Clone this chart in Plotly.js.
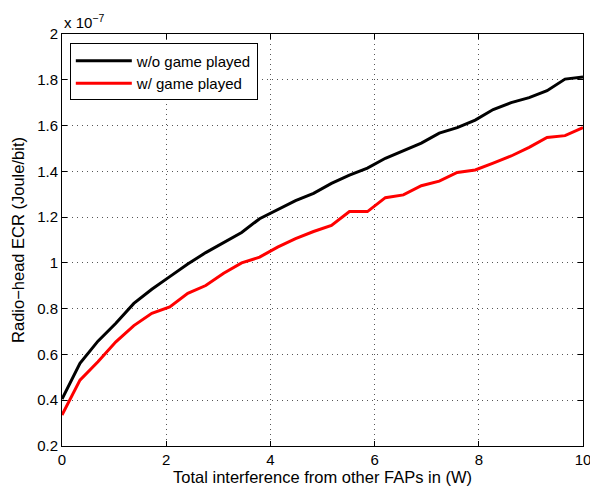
<!DOCTYPE html>
<html>
<head>
<meta charset="utf-8">
<script src="https://cdn.plot.ly/plotly-3.0.1.min.js"></script>
<style>html,body{margin:0;padding:0;background:#fff;}#chart{width:590px;height:487px;}</style>
</head>
<body>
<div id="chart"></div>
<script>
// Interference values (W): 30 samples from 0 to 10
var interference = [0, 0.345, 0.690, 1.034, 1.379, 1.724, 2.069, 2.414, 2.759, 3.103,
  3.448, 3.793, 4.138, 4.483, 4.828, 5.172, 5.517, 5.862, 6.207, 6.552,
  6.897, 7.241, 7.586, 7.931, 8.276, 8.621, 8.966, 9.310, 9.655, 10];
// ECR values in units of 1e-7 Joule/bit
var ecrWithoutGame = [0.405, 0.561, 0.658, 0.736, 0.823, 0.885, 0.940, 0.995, 1.045, 1.090,
  1.133, 1.193, 1.231, 1.272, 1.304, 1.347, 1.383, 1.414, 1.457, 1.491,
  1.523, 1.567, 1.591, 1.624, 1.670, 1.700, 1.722, 1.752, 1.803, 1.812];
var ecrWithGame = [0.335, 0.488, 0.568, 0.655, 0.726, 0.780, 0.808, 0.867, 0.901, 0.955,
  1.000, 1.025, 1.069, 1.106, 1.137, 1.164, 1.224, 1.224, 1.285, 1.297,
  1.337, 1.357, 1.395, 1.406, 1.436, 1.467, 1.505, 1.548, 1.556, 1.591];
var seriesNames = ["w/o game played", "w/ game played"];
var xTickVals = [0, 2, 4, 6, 8, 10];
var xTickText = ["0", "2", "4", "6", "8", "10"];
var yTickVals = [0.2, 0.4, 0.6, 0.8, 1, 1.2, 1.4, 1.6, 1.8, 2];
var yTickText = ["0.2", "0.4", "0.6", "0.8", "1", "1.2", "1.4", "1.6", "1.8", "2"];

var font = "Liberation Sans, Arial, Helvetica, sans-serif";
var traces = [
  {x: interference, y: ecrWithoutGame, name: seriesNames[0], mode: "lines",
   line: {color: "#000000", width: 3}},
  {x: interference, y: ecrWithGame, name: seriesNames[1], mode: "lines",
   line: {color: "#ff0000", width: 3}}
];
var axisCommon = {
  showline: true, linecolor: "#000", linewidth: 1, mirror: "ticks",
  ticks: "inside", ticklen: 5, tickcolor: "#000", tickwidth: 1,
  showgrid: true, gridcolor: "#555", griddash: "1px,4px", gridwidth: 1,
  zeroline: false, ticklabeloverflow: "allow",
  tickfont: {family: font, size: 15, color: "#000"}
};
var layout = {
  width: 590, height: 487,
  margin: {l: 62, r: 7, t: 34, b: 41},
  paper_bgcolor: "#fff", plot_bgcolor: "#fff",
  showlegend: true,
  legend: {x: 0.015, y: 0.977, xanchor: "left", yanchor: "top",
    bordercolor: "#000", borderwidth: 1, bgcolor: "#fff", itemwidth: 56,
    font: {family: font, size: 15, color: "#000"}, tracegroupgap: 0},
  xaxis: Object.assign({}, axisCommon, {range: [0, 10], tickvals: xTickVals, ticktext: xTickText,
    title: {text: "Total interference from other FAPs in (W)", font: {family: font, size: 16.5, color: "#000"}, standoff: 2}}),
  yaxis: Object.assign({}, axisCommon, {range: [0.2, 2], tickvals: yTickVals, ticktext: yTickText,
    title: {text: "Radio\u2212head ECR (Joule/bit)", font: {family: font, size: 16.5, color: "#000"}, standoff: 8}}),
  annotations: [{xref: "paper", yref: "paper", x: 0, y: 1, xanchor: "left", yanchor: "bottom",
    yshift: 1, showarrow: false, text: "x 10<sup>\u22127</sup>",
    font: {family: font, size: 15, color: "#000"}}]
};
Plotly.newPlot("chart", traces, layout, {displayModeBar: false, staticPlot: true});
</script>
</body>
</html>
